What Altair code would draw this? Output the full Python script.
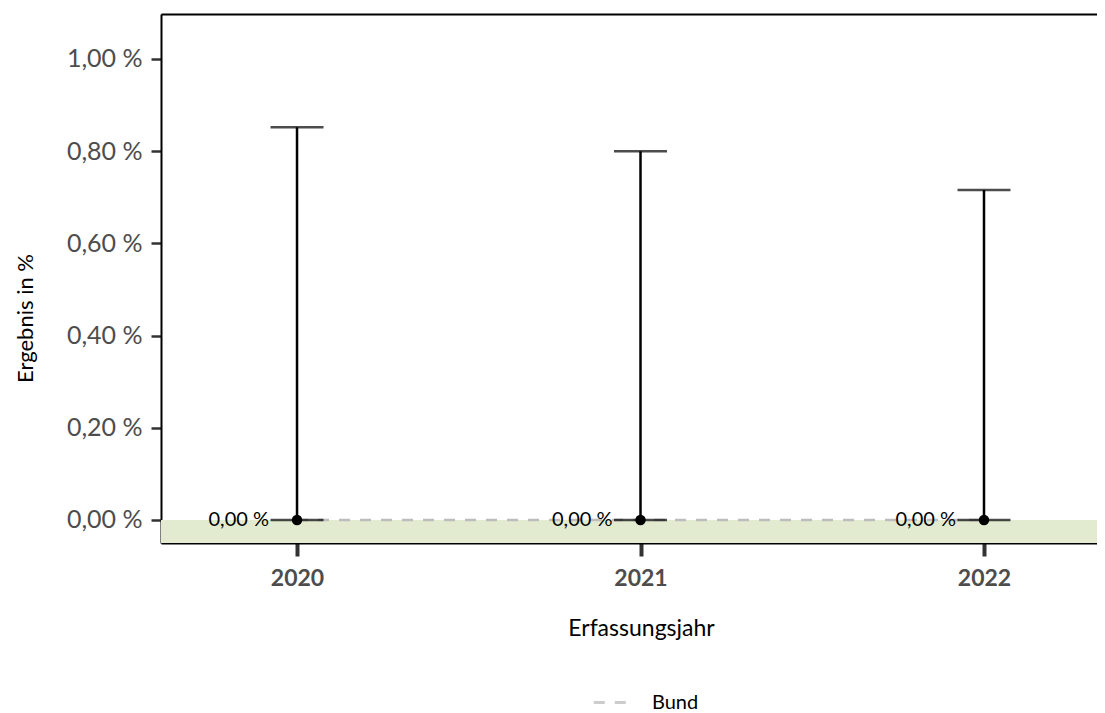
import altair as alt
import pandas as pd

# ---- data ----
years = [2020, 2021, 2022]
results = [0.0, 0.0, 0.0]
ci_lower = [0.0, 0.0, 0.0]
ci_upper = [0.852, 0.800, 0.716]
bund = [0.0, 0.0, 0.0]
result_labels = ["0,00 %", "0,00 %", "0,00 %"]
series_name = ["Bund", "Bund", "Bund"]
ref_upper = [0.0]
ref_lower = [-0.0499]
y_ticks = [0.0, 0.2, 0.4, 0.6, 0.8, 1.0]
x_ticks = [2020, 2021, 2022]
Y_DOMAIN = [-0.0499, 1.0976]
X_DOMAIN = [2019.604, 2022.329]

FONT = "Lato"

df = pd.DataFrame({
    "year": years,
    "result": results,
    "lo": ci_lower,
    "hi": ci_upper,
    "bund": bund,
    "label": result_labels,
    "series": series_name,
})
band_df = pd.DataFrame({"top": ref_upper, "bottom": ref_lower})

xscale = alt.Scale(domain=X_DOMAIN, nice=False, zero=False)
yscale = alt.Scale(domain=Y_DOMAIN, nice=False, zero=False)

y_axis = alt.Axis(
    values=y_ticks,
    labelExpr="replace(format(datum.value, '.2f'), '.', ',') + ' %'",
    title="Ergebnis in %",
    grid=False,
    domain=True, domainColor="#000000", domainWidth=2,
    ticks=True, tickColor="#333333", tickWidth=2.5, tickSize=10,
    labelFontSize=25, labelColor="#4d4d4d", labelPadding=9, labelFont=FONT,
    titleFont=FONT, titleFontSize=22, titleFontWeight="normal", titleColor="#000000",
    titleX=-136, titleY=304, titleAngle=-90, titleAlign="center", titleBaseline="middle",
)
x_axis = alt.Axis(
    values=x_ticks,
    format="d",
    title="Erfassungsjahr",
    grid=False, orient="bottom",
    domain=True, domainColor="#000000", domainWidth=2,
    ticks=True, tickColor="#333333", tickWidth=4, tickSize=13,
    labelFontSize=23, labelFontWeight="bold", labelColor="#4d4d4d", labelPadding=11, labelFont=FONT,
    titleFont=FONT, titleFontSize=23, titleFontWeight="normal", titleColor="#000000",
    titleX=480, titleY=85, titleAlign="center", titleBaseline="middle",
)
top_axis = alt.Axis(
    orient="top", title=None, labels=False, ticks=False, grid=False,
    domain=True, domainColor="#000000", domainWidth=2,
)

X = lambda axis=None: alt.X("year:Q", scale=xscale, axis=axis)

band = alt.Chart(band_df).mark_rect(color="#e2ebd0").encode(
    y=alt.Y("top:Q", scale=yscale, axis=y_axis),
    y2="bottom:Q",
)

bund_line = alt.Chart(df).mark_line(color="#bdbdbd", strokeWidth=2.5).encode(
    x=X(x_axis),
    y=alt.Y("bund:Q", scale=yscale, axis=y_axis),
    strokeDash=alt.StrokeDash(
        "series:N",
        scale=alt.Scale(domain=["Bund"], range=[[11, 10]]),
        legend=alt.Legend(
            title=None, orient="none", legendX=431, legendY=668,
            symbolType="stroke", symbolStrokeColor="#cccccc", symbolStrokeWidth=3,
            symbolSize=1400, symbolDash=[12, 12],
            labelFontSize=20, labelFont=FONT, labelColor="#000000", labelOffset=19,
        ),
    ),
)

whisker = alt.Chart(df).mark_rule(color="#000000", strokeWidth=2.5).encode(
    x=X(),
    y=alt.Y("lo:Q", scale=yscale, axis=y_axis),
    y2="hi:Q",
)

cap_hi = alt.Chart(df).mark_tick(orient="horizontal", size=53, thickness=2.5, color="#000000").encode(
    x=X(), y=alt.Y("hi:Q", scale=yscale, axis=y_axis),
)
cap_lo = alt.Chart(df).mark_tick(orient="horizontal", size=53, thickness=2.5, color="#000000").encode(
    x=X(), y=alt.Y("lo:Q", scale=yscale, axis=y_axis),
)

points = alt.Chart(df).mark_point(filled=True, color="#000000", size=110, opacity=1).encode(
    x=X(), y=alt.Y("result:Q", scale=yscale, axis=y_axis),
)

labels = alt.Chart(df).mark_text(
    align="right", baseline="middle", dx=-28, fontSize=20, font=FONT, color="#000000"
).encode(
    x=X(), y=alt.Y("result:Q", scale=yscale, axis=y_axis), text="label:N",
)

top = alt.Chart(df).mark_point(opacity=0).encode(
    x=X(top_axis), y=alt.Y("result:Q", scale=yscale, axis=y_axis),
)

chart = alt.layer(band, bund_line, whisker, cap_hi, cap_lo, points, labels, top).resolve_axis(
    x="independent"
).properties(
    width=936, height=529,
    autosize=alt.AutoSizeParams(type="none"),
    padding={"left": 153, "top": 6, "right": 0, "bottom": 170},
).configure_view(stroke=None).configure(background="#ffffff")

chart.save("out.html", embed_options={"renderer": "svg", "actions": False})
